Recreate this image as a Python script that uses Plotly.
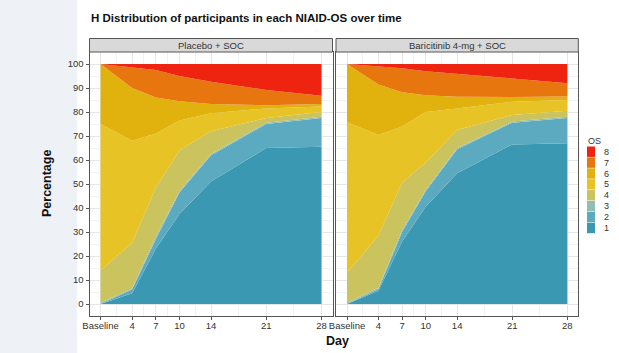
import plotly.graph_objects as go

# Study days (Baseline = day 0) and their axis labels
days = [0, 4, 7, 10, 14, 21, 28]
day_labels = ["Baseline", "4", "7", "10", "14", "21", "28"]

os_levels = ["1", "2", "3", "4", "5", "6", "7", "8"]
os_colors = ["#3a98b2", "#5caabf", "#90bdb6", "#cbc35e",
             "#e8c325", "#e1b10d", "#e8760f", "#ee2410"]

# Percentage of participants in each OS category per day
placebo = {
    "1": [0, 4.5, 23, 37.5, 51, 65, 65.5],
    "2": [0, 1.5, 4, 9, 11, 10, 12],
    "3": [0.5, 0.5, 1, 0.5, 0.5, 0.5, 0.5],
    "4": [13.5, 19, 20.5, 17, 9.5, 2, 2],
    "5": [61, 42.5, 22.5, 12.5, 7.5, 4, 2.3],
    "6": [25, 22, 15, 8, 3.8, 1.3, 1],
    "7": [0, 8.5, 11.5, 10.5, 9.3, 6.4, 3.5],
    "8": [0, 1.5, 2.5, 5, 7.4, 10.8, 13.2],
}
baricitinib = {
    "1": [0, 5.5, 26, 40.5, 54.5, 66.5, 67],
    "2": [0, 0.8, 4, 6.5, 10, 9, 10.5],
    "3": [0.5, 0.5, 0.8, 0.5, 0.5, 0.5, 0.5],
    "4": [12.5, 21.7, 19.7, 11.5, 7.5, 2.8, 2.5],
    "5": [62.7, 41.9, 23.5, 21, 9, 5.5, 4.5],
    "6": [24.3, 21.1, 14.2, 7, 4.9, 1.9, 1.5],
    "7": [0, 7.5, 10, 10, 9.6, 7.8, 5.5],
    "8": [0, 1, 1.8, 3, 4, 6, 8],
}
panel_titles = ["Placebo + SOC", "Baricitinib 4-mg + SOC"]

W, H = 619, 353
FONT = "Liberation Sans, Arial, sans-serif"


def px_x(v):
    return v / W


def px_y(v):
    return 1 - v / H


fig = go.Figure()

for panel, (data, xa, ya) in enumerate([(placebo, "x", "y"), (baricitinib, "x2", "y2")]):
    for lvl, col in zip(os_levels, os_colors):
        fig.add_trace(go.Scatter(
            x=days, y=data[lvl], xaxis=xa, yaxis=ya,
            mode="lines", line=dict(width=0, color=col),
            fillcolor=col, stackgroup=f"p{panel}",
            name=lvl, showlegend=False, hoverinfo="skip",
        ))

x_dom = [(px_x(89.5), px_x(332.5)), (px_x(336), px_x(578.3))]
y_dom = (px_y(316), px_y(52))

axis_common = dict(
    showline=True, mirror=True, linecolor="#555555", linewidth=1,
    ticks="outside", ticklen=3, tickcolor="#555555",
    tickfont=dict(family=FONT, size=9.5, color="#333333"),
    showgrid=True, gridcolor="#e6e6e6", gridwidth=0.8, zeroline=False,
    automargin=False,
)
x_common = dict(axis_common, range=[-1.4, 29.4], tickmode="array",
                tickvals=days, ticktext=day_labels, ticklabelstandoff=-2,
                minor=dict(tickvals=[2, 5.5, 8.5, 12, 17.5, 24.5], showgrid=True,
                           gridcolor="#f2f2f2", ticks=""))
y_common = dict(axis_common, range=[-5, 105], tickmode="array",
                tickvals=list(range(0, 101, 10)),
                minor=dict(tickvals=list(range(5, 100, 10)), showgrid=True,
                           gridcolor="#f2f2f2", ticks=""))

fig.update_layout(
    width=W, height=H,
    margin=dict(l=0, r=0, t=0, b=0, pad=0, autoexpand=False),
    paper_bgcolor="white", plot_bgcolor="white",
    xaxis=dict(x_common, domain=x_dom[0], anchor="y"),
    xaxis2=dict(x_common, domain=x_dom[1], anchor="y2"),
    yaxis=dict(y_common, domain=y_dom, anchor="x"),
    yaxis2=dict(y_common, domain=y_dom, anchor="x2", matches="y",
                showticklabels=False, ticks=""),
)

shapes = []
annotations = []

# slide backdrop on the left edge
shapes.append(dict(type="rect", xref="paper", yref="paper", layer="below",
                   x0=0, x1=px_x(77), y0=0, y1=1,
                   fillcolor="#eef2f7", line=dict(width=0)))

# facet strips
for (x0, x1), title in zip(x_dom, panel_titles):
    shapes.append(dict(type="rect", xref="paper", yref="paper",
                       x0=x0, x1=x1, y0=px_y(52), y1=px_y(38.5),
                       fillcolor="#d9d9d9", line=dict(color="#555555", width=1)))
    annotations.append(dict(text=title, xref="paper", yref="paper",
                            x=(x0 + x1) / 2, y=px_y(45.3), showarrow=False,
                            xanchor="center", yanchor="middle",
                            font=dict(family=FONT, size=9.5, color="#333333")))

# titles
annotations.append(dict(text="<b>H Distribution of participants in each NIAID-OS over time</b>",
                        xref="paper", yref="paper", x=px_x(89), y=px_y(18),
                        xanchor="left", yanchor="middle", showarrow=False,
                        font=dict(family=FONT, size=11.5, color="#111111")))
annotations.append(dict(text="<b>Percentage</b>", xref="paper", yref="paper",
                        x=px_x(47), y=px_y(184), textangle=-90, showarrow=False,
                        xanchor="center", yanchor="middle",
                        font=dict(family=FONT, size=12.5, color="#111111")))
annotations.append(dict(text="<b>Day</b>", xref="paper", yref="paper",
                        x=px_x(337), y=px_y(341), showarrow=False,
                        xanchor="center", yanchor="middle",
                        font=dict(family=FONT, size=12.5, color="#111111")))

# legend (OS 8 at top down to 1)
annotations.append(dict(text="OS", xref="paper", yref="paper",
                        x=px_x(586), y=px_y(141), showarrow=False,
                        xanchor="left", yanchor="middle",
                        font=dict(family=FONT, size=9, color="#333333")))
row_h = 10.9
for i, (lvl, col) in enumerate(reversed(list(zip(os_levels, os_colors)))):
    cy = 151.7 + i * row_h
    shapes.append(dict(type="rect", xref="paper", yref="paper",
                       x0=px_x(587), x1=px_x(595), y0=px_y(cy + 5.2), y1=px_y(cy - 5.2),
                       fillcolor=col, line=dict(width=0)))
    annotations.append(dict(text=lvl, xref="paper", yref="paper",
                            x=px_x(602), y=px_y(cy), showarrow=False,
                            xanchor="left", yanchor="middle",
                            font=dict(family=FONT, size=9, color="#333333")))

fig.update_layout(shapes=shapes, annotations=annotations)

fig.write_html("out.html")
